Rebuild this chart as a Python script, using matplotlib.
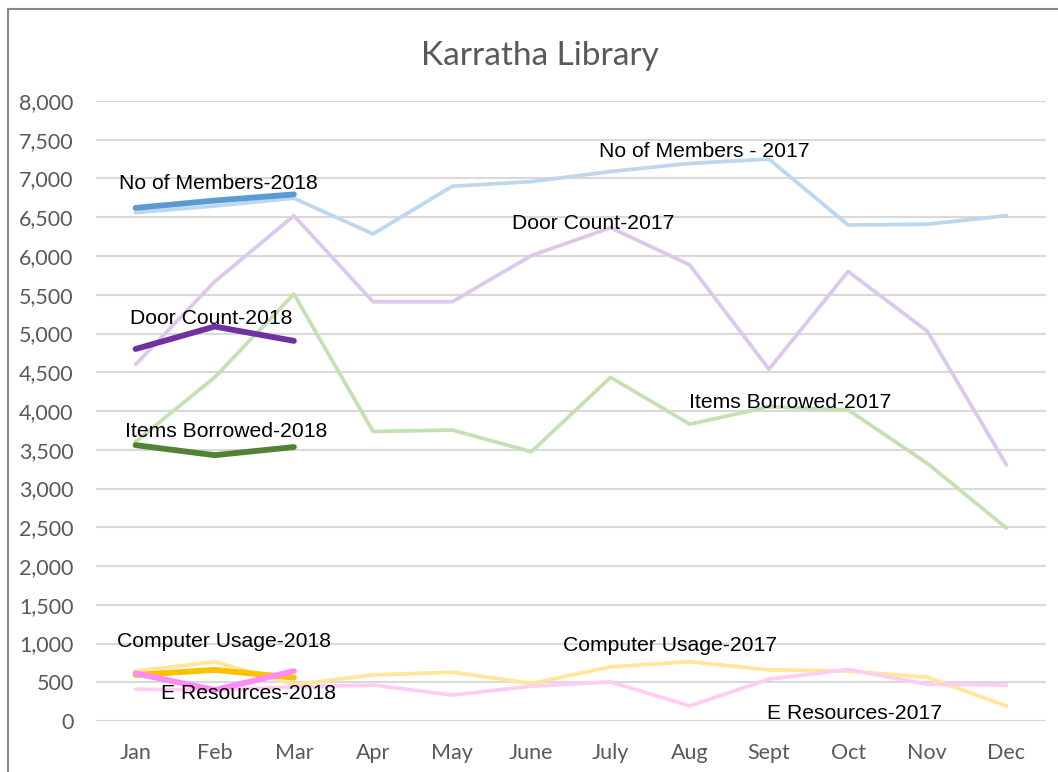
import matplotlib.pyplot as plt
from matplotlib.ticker import FuncFormatter

months = ['Jan', 'Feb', 'Mar', 'Apr', 'May', 'June', 'July', 'Aug', 'Sept', 'Oct', 'Nov', 'Dec']
months_2018 = months[:3]

members_2017 = [6560, 6645, 6745, 6285, 6900, 6960, 7090, 7195, 7250, 6400, 6410, 6520]
door_2017 = [4600, 5670, 6520, 5410, 5410, 6005, 6365, 5885, 4540, 5800, 5030, 3305]
items_2017 = [3605, 4435, 5510, 3735, 3755, 3475, 4435, 3830, 4055, 4015, 3325, 2490]
computer_2017 = [645, 765, 470, 595, 630, 485, 700, 765, 660, 645, 565, 195]
eres_2017 = [410, 400, 440, 465, 335, 450, 505, 195, 540, 665, 475, 465]

members_2018 = [6620, 6715, 6795]
door_2018 = [4800, 5090, 4905]
items_2018 = [3560, 3430, 3535]
computer_2018 = [595, 660, 560]
eres_2018 = [615, 400, 645]

fig = plt.figure(figsize=(10.58, 7.72), dpi=100)
ax = fig.add_axes([0.0907, 0.066, 0.898, 0.8032])

x = list(range(len(months)))
x18 = list(range(len(months_2018)))

# 2017 lines (light) drawn first, 2018 (dark) on top
ax.plot(x, members_2017, color='#BDD7EE', lw=2.7, solid_capstyle='round')
ax.plot(x, door_2017, color='#DCC8EC', lw=2.7, solid_capstyle='round')
ax.plot(x, items_2017, color='#C5E0B4', lw=2.7, solid_capstyle='round')
ax.plot(x, computer_2017, color='#FFE699', lw=2.7, solid_capstyle='round')
ax.plot(x, eres_2017, color='#FFCCF2', lw=2.7, solid_capstyle='round')

ax.plot(x18, members_2018, color='#5B9BD5', lw=4.2, solid_capstyle='round')
ax.plot(x18, door_2018, color='#7030A0', lw=4.2, solid_capstyle='round')
ax.plot(x18, items_2018, color='#548235', lw=4.2, solid_capstyle='round')
ax.plot(x18, computer_2018, color='#FFC000', lw=4.2, solid_capstyle='round')
ax.plot(x18, eres_2018, color='#FF8CF4', lw=4.2, solid_capstyle='round')

labels = [
    ('No of Members-2018', -0.21, 6930),
    ('No of Members - 2017', 5.85, 7345),
    ('Door Count-2017', 4.75, 6415),
    ('Door Count-2018', -0.07, 5200),
    ('Items Borrowed-2017', 6.99, 4115),
    ('Items Borrowed-2018', -0.13, 3730),
    ('Computer Usage-2018', -0.23, 1020),
    ('E Resources-2018', 0.32, 350),
    ('Computer Usage-2017', 5.40, 970),
    ('E Resources-2017', 7.98, 92),
]
for txt, lx, ly in labels:
    ax.text(lx, ly, txt, ha='left', va='center', fontsize=15.2,
            family='Liberation Sans', color='black')

ax.set_xlim(-0.5, 11.5)
ax.set_ylim(0, 8000)
ax.set_yticks(range(0, 8001, 500))
ax.yaxis.set_major_formatter(FuncFormatter(lambda v, p: f'{int(v):,}'))
ax.set_xticks(x)
ax.set_xticklabels(months)
ax.tick_params(axis='both', length=0, labelsize=15.5, labelcolor='#595959')
ax.tick_params(axis='x', pad=16)
ax.tick_params(axis='y', pad=16)
for lbl in ax.get_xticklabels() + ax.get_yticklabels():
    lbl.set_family('Lato')
ax.grid(axis='y', color='#D9D9D9', lw=1.5)
ax.set_axisbelow(True)
for s in ax.spines.values():
    s.set_visible(False)

fig.text(0.510, 0.927, 'Karratha Library', ha='center', va='center',
         fontsize=24, color='#595959', family='Lato')

# outer chart border (only left and top are visible in the crop)
fig.add_artist(plt.Line2D([0.0076, 0.0076], [0, 0.988], color='#898989', lw=1.5))
fig.add_artist(plt.Line2D([0.0076, 1.0], [0.988, 0.988], color='#898989', lw=1.5))

fig.savefig('out.png', dpi=100)
